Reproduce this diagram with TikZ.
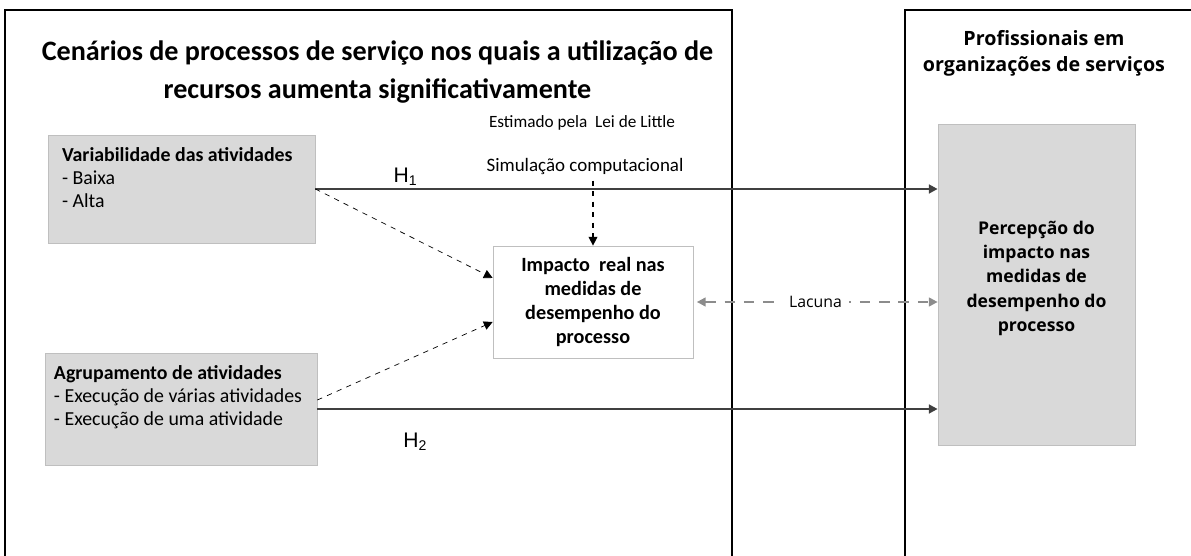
\documentclass[tikz,border=0pt]{standalone}
\usepackage{fontspec}
\setmainfont{Carlito}
\newfontfamily\opensans{Open Sans}
\newfontfamily\arialfont{Liberation Sans}
\usetikzlibrary{positioning,arrows.meta}
\tikzset{box/.style={rectangle,draw=black!25,fill=black!15,inner sep=0pt}}
\tikzset{wbox/.style={rectangle,draw=black!25,fill=white,inner sep=0pt,align=center,font=\bfseries\fontsize{11.5}{13.6}\selectfont}}
\tikzset{item/.style={align=left,inner sep=0pt,anchor=north west,font=\fontsize{11.3}{13}\selectfont}}
\tikzset{lbl/.style={inner sep=0pt,font=\fontsize{9.8}{12}\selectfont}}
\tikzset{frame/.style={line width=1.1pt}}
\tikzset{hyp/.style={->,line width=1.5pt,draw=black!75}}
\tikzset{infl/.style={->,dashed,thin}}
\tikzset{gap/.style={<->,draw=black!45,line width=1.1pt,dash pattern=on 6pt off 5pt}}
\tikzset{hlab/.style={inner sep=0pt,font=\arialfont\fontsize{12}{14}\selectfont}}
\begin{document}
\begin{tikzpicture}[>={Triangle[length=5pt,width=5pt]}]
    \useasboundingbox (0,0) rectangle (23.82,11.12);

    % molduras
    \draw[frame] (0.1,0) -- (0.1,10.92) -- (14.64,10.92) -- (14.64,0);
    \draw[frame] (18.1,0) -- (18.1,10.92) -- (23.9,10.92);

    \node[align=center,font=\bfseries\fontsize{16}{18.8}\selectfont] (t1) at (7.55,9.68) {Cen\'arios de processos de servi\c{c}o nos quais a utiliza\c{c}\~ao de\\[0.1cm]recursos aumenta significativamente};
    \node[align=center,font=\opensans\bfseries\fontsize{11.2}{14.8}\selectfont] (t2) at (20.88,10.06) {Profissionais em\\organiza\c{c}\~oes de servi\c{c}os};

    \node[box,minimum width=5.34cm,minimum height=2.16cm] (v) at (3.63,7.34) {};
    \node[item] (vt) at ([shift={(0.28,-0.25)}]v.north west) {\textbf{Variabilidade das atividades}\\- Baixa\\- Alta};
    \node[box,minimum width=5.44cm,minimum height=2.24cm] (a) at (3.62,2.94) {};
    \node[item] (at) at ([shift={(0.18,-0.25)}]a.north west) {\textbf{Agrupamento de atividades}\\- Execu\c{c}\~ao de v\'arias atividades\\- Execu\c{c}\~ao de uma atividade};

    \node[wbox,minimum width=4cm,minimum height=2.24cm] (i) at (11.86,5.08) {Impacto~ real nas\\medidas de\\desempenho do\\processo};
    \node[box,minimum width=3.94cm,minimum height=6.42cm,align=center,font=\opensans\bfseries\fontsize{10}{13.8}\selectfont] (p) at (20.73,5.43) {\raisebox{0.13cm}[\height][\depth]{\begin{tabular}{@{}c@{}}Percep\c{c}\~ao do\\impacto nas\\medidas de\\desempenho do\\processo\end{tabular}}};

    \node[lbl] (e) at (11.64,8.66) {Estimado pela~ Lei de Little};
    \node[lbl,font=\fontsize{10.8}{12}\selectfont] (s) at (11.7,7.78) {Simula\c{c}\~ao computacional};

    % hipoteses
    \draw [hyp] (v.east) to []node[hlab,pos=0.145,above=1pt]{H\textsubscript{1}} (v.east -| p.west);
    \draw [hyp] (a.east) to []node[hlab,pos=0.158,below=0.45cm]{H\textsubscript{2}} (a.east -| p.west);

    \draw [infl] (v.east) to [] ([yshift=0.48cm]i.west);
    \draw [infl] ([yshift=0.18cm]a.east) to [] ([yshift=-0.4cm]i.west);
    \draw [infl,line width=0.7pt] (i.north |- s.south) ++(0,-0.1) to [] (i.north);

    \draw [gap,shorten <=2pt] (i.east) to []node[fill=white,inner sep=4pt,font=\opensans\fontsize{9}{11}\selectfont]{Lacuna} (i.east -| p.west);
\end{tikzpicture}
\end{document}
